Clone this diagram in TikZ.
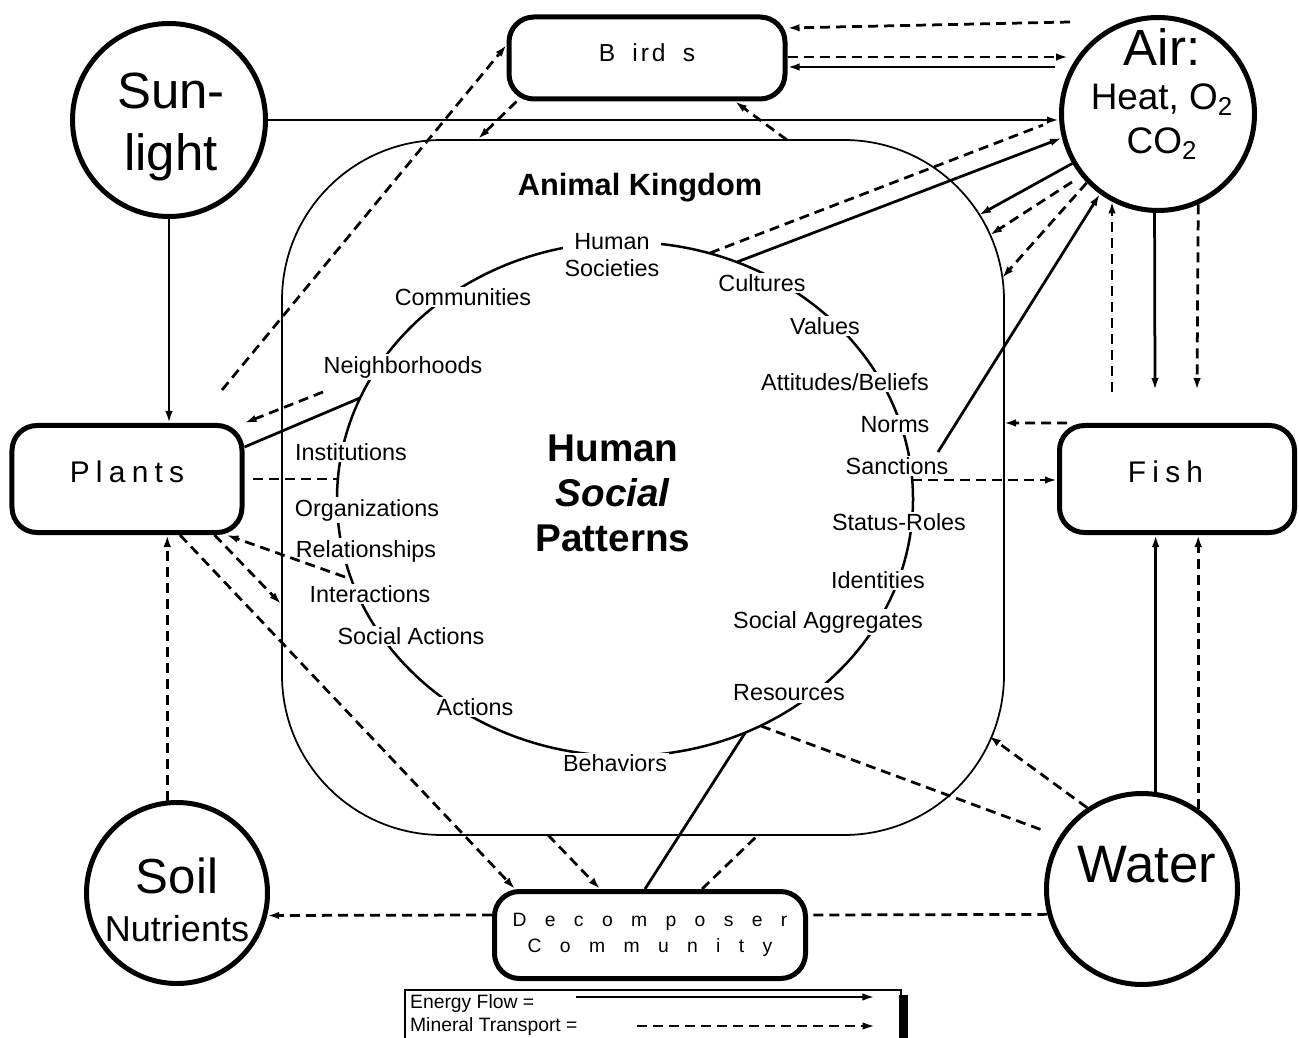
\documentclass[tikz,border=0pt]{standalone}
\usepackage{fontspec}
\setmainfont{Liberation Sans}
\newfontfamily\spacedfont[LetterSpace=21]{Liberation Sans}
\newfontfamily\birdfont[LetterSpace=12]{Liberation Sans}
\newfontfamily\widefont[LetterSpace=95]{Liberation Sans}
\usetikzlibrary{arrows.meta}
\tikzset{
  flow/.style={
    line width=0.55mm,
    -{Latex[length=2.4mm,width=1.5mm]}
  },
  energy/.style={flow},
  mineral/.style={flow, dash pattern=on 2mm off 1.2mm},
  pool/.style={circle, line width=1mm, draw=black, inner sep=0pt},
  pool-text/.style={align=center, inner sep=0pt},
  organism/.style={rounded corners=5mm, line width=1mm, draw=black, inner sep=0pt, align=center},
  ring-label/.style={fill=white, inner sep=1pt, align=center, font=\fontsize{13.3}{15.4}\selectfont},
  legend-text/.style={anchor=west, inner sep=1pt, font=\fontsize{11}{13}\selectfont}
}
\newcommand{\kingdomframe}{
  \draw[line width=0.35mm, rounded corners=32mm] (282,140) rectangle (1004,835);
  \draw[line width=0.5mm] (625,499) ellipse [x radius=57.6mm, y radius=51.4mm];
}

\begin{document}
\begin{tikzpicture}[x=0.2mm, y=-0.2mm]
  \useasboundingbox (0,0) rectangle (1299,1038);
  \kingdomframe
  \node[font=\bfseries\fontsize{17.5}{21}\selectfont] (kingdom) at (640,188) {Animal Kingdom};
  \node[align=center, font=\bfseries\fontsize{22}{25.6}\selectfont] (patterns) at (613,493) {Human\\\textit{Social}\\Patterns};
  % Ring of social patterns
  \node[ring-label] (societies) at (612,255) {Human\\Societies};
  \node[ring-label] (cultures) at (762,283) {Cultures};
  \node[ring-label] (values) at (825,326) {Values};
  \node[ring-label] (attitudes) at (845,382) {Attitudes/Beliefs};
  \node[ring-label] (norms) at (895,425) {Norms};
  \node[ring-label] (sanctions) at (897,466) {Sanctions};
  \node[ring-label] (statusroles) at (899,522) {Status-Roles};
  \node[ring-label] (identities) at (878,580) {Identities};
  \node[ring-label] (aggregates) at (828,622) {Social Aggregates};
  \node[ring-label] (resources) at (789,693) {Resources};
  \node[ring-label] (behaviors) at (615,763) {Behaviors};
  \node[ring-label] (actions) at (475,707) {Actions};
  \node[ring-label] (socactions) at (411,636) {Social Actions};
  \node[ring-label] (interactions) at (370,594) {Interactions};
  \node[ring-label] (relationships) at (366,551) {Relationships};
  \node[ring-label] (organizations) at (367,510) {Organizations};
  \node[ring-label] (institutions) at (351,452) {Institutions};
  \node[ring-label] (neighborhoods) at (403,367) {Neighborhoods};
  \node[ring-label] (communities) at (463,297) {Communities};
  % Pools and organisms
  \node[pool, minimum size=38.6mm] (sun) at (169,120) {};
  \node[pool-text, font=\fontsize{29}{35}\selectfont] (suntext) at (171,127) {Sun-\\light};
  \node[pool, minimum size=38.6mm] (air) at (1158,114) {};
  \node[pool-text, font=\fontsize{21}{25}\selectfont] (airtext) at (1162,94) {{\fontsize{29}{29}\selectfont Air:}\\Heat, O\textsubscript{2}\\CO\textsubscript{2}};
  \node[pool, minimum size=36.2mm] (soil) at (177,893) {};
  \node[pool-text, font=\fontsize{28}{27}\selectfont] (soiltext) at (177,900) {Soil\\{\fontsize{20.5}{27}\selectfont Nutrients}};
  \node[pool, minimum size=38.2mm] (water) at (1142,889) {};
  \node[pool-text, font=\fontsize{30}{36}\selectfont] (watertext) at (1147,865) {Water};
  \node[organism, minimum width=55.2mm, minimum height=16.4mm, text depth=2mm, font=\birdfont\fontsize{14}{16}\selectfont] (birds) at (647,58) {B\hspace{0.7em}ird\hspace{0.7em}s};
  \node[organism, minimum width=46mm, minimum height=21.4mm, text depth=2.8mm, font=\spacedfont\fontsize{17}{20}\selectfont] (plants) at (127,479) {Plants};
  \node[organism, minimum width=47mm, minimum height=21.4mm, text depth=2.8mm, font=\spacedfont\fontsize{17}{20}\selectfont] (fish) at (1177,479) {Fish\hspace*{4.6mm}};
  \node[organism, minimum width=62.2mm, minimum height=17.4mm, font=\widefont\fontsize{11}{14.8}\selectfont] (decomp) at (650,935) {Decomposer\\Community};
  % free ends on the Animal Kingdom frame
  \coordinate (k1) at (478,139);
  \coordinate (k2) at (787,140);
  \coordinate (k3) at (979,215);
  \coordinate (k4) at (990,235);
  \coordinate (k5) at (1002,278);
  \coordinate (k6) at (1004,423);
  \coordinate (k7) at (989,736);
  \coordinate (k8) at (548,835);
  \coordinate (k9) at (758,835);
  \coordinate (k10) at (281,604);
  % free ends on the ring
  \coordinate (r1) at (710,253);
  \coordinate (r2) at (737,262);
  \coordinate (r3) at (938,452);
  \coordinate (r4) at (912,480);
  \coordinate (r5) at (761,726);
  \coordinate (r6) at (745,733);
  \coordinate (r7) at (345,577);
  \coordinate (r8) at (338,479);
  \coordinate (r9) at (360,398);
  \coordinate (r10) at (323,392);
  % other free ends
  \coordinate (a1) at (1070,22);
  \coordinate (a2) at (1068,57);
  \coordinate (a3) at (1055,67);
  \coordinate (a4) at (1043,125);
  \coordinate (a5) at (1072,182);
  \coordinate (fa1) at (1112,392);
  \coordinate (fa2) at (1155,390);
  \coordinate (fa3) at (1197,390);
  \coordinate (p1) at (222,390);
  \coordinate (w1) at (1042,830);
  % Energy flow
  \draw[energy] (sun.east) -- (sun.east -| air.west);
  \draw[energy] (sun.south) -- (sun.south |- plants.north);
  \draw[energy] (a3) -- (a3 -| birds.east);
  \draw[energy] (r2) -- (air.194);
  \draw[energy] (air.210) -- (k3);
  \draw[energy] (r3) -- (air.234);
  \draw[energy] (air.268) -- (fa2);
  \draw[energy] (water.82) -- (water.82 |- fish.south);
  \draw[energy, -] ([yshift=6.4mm]plants.east) -- (r9);
  \draw[energy, -] ([xshift=-1mm]decomp.north) -- (r6);
  % Mineral transport
  \draw[mineral] (a1) -- ([yshift=6mm]birds.east);
  \draw[mineral] ([yshift=0.2mm]birds.east) -- (a2);
  \draw[mineral] (p1) -- ([yshift=2.6mm]birds.west);
  \draw[mineral] ([xshift=2mm]birds.south west) -- (k1);
  \draw[mineral] (k2) -- ([xshift=17.6mm]birds.south);
  \draw[mineral, -] (r1) -- (a4);
  \draw[mineral] (a5) -- (k4);
  \draw[mineral] (air.224) -- (k5);
  \draw[mineral] (fa1) -- (fa1 |- air.242);
  \draw[mineral] (air.294) -- (fa3);
  \draw[mineral] (water.55) -- (water.55 |- fish.south);
  \draw[mineral] ([xshift=2mm]fish.north west) -- (k6);
  \draw[mineral] (r4) -- (r4 -| fish.west);
  \draw[mineral] (water.124) -- (k7);
  \draw[mineral, -] (r5) -- (w1);
  \draw[mineral, -] (water.195) -- ([yshift=4mm]decomp.east);
  \draw[mineral] ([yshift=4mm]decomp.west) -- (soil.-14);
  \draw[mineral] (soil.96) -- (soil.96 |- plants.south);
  \draw[mineral] ([xshift=10.6mm]plants.south) -- ([xshift=4.6mm]decomp.north west);
  \draw[mineral] ([xshift=-6mm]plants.south east) -- (k10);
  \draw[mineral] (r7) -- ([xshift=-3.6mm]plants.south east);
  \draw[mineral] (r10) -- (plants.north east);
  \draw[mineral, -] ([xshift=1.6mm]plants.east) -- (r8);
  \draw[mineral] (k8) -- ([xshift=21.6mm]decomp.north west);
  \draw[mineral, -] ([xshift=10.4mm]decomp.north) -- (k9);
  % Legend
  \draw[line width=0.35mm] (405,990) rectangle (901,1060);
  \fill (899,995) rectangle (908,1060);
  \node[legend-text] (legend-energy) at (408,1003) {Energy Flow =};
  \node[legend-text] (legend-mineral) at (408,1026) {Mineral Transport =};
  \draw[energy, line width=0.4mm] ([xshift=8mm, yshift=1.2mm]legend-energy.east) -- ++(298,0);
  \draw[mineral, line width=0.4mm] ([xshift=11.4mm]legend-mineral.east) -- ++(238,0);
\end{tikzpicture}
\end{document}
